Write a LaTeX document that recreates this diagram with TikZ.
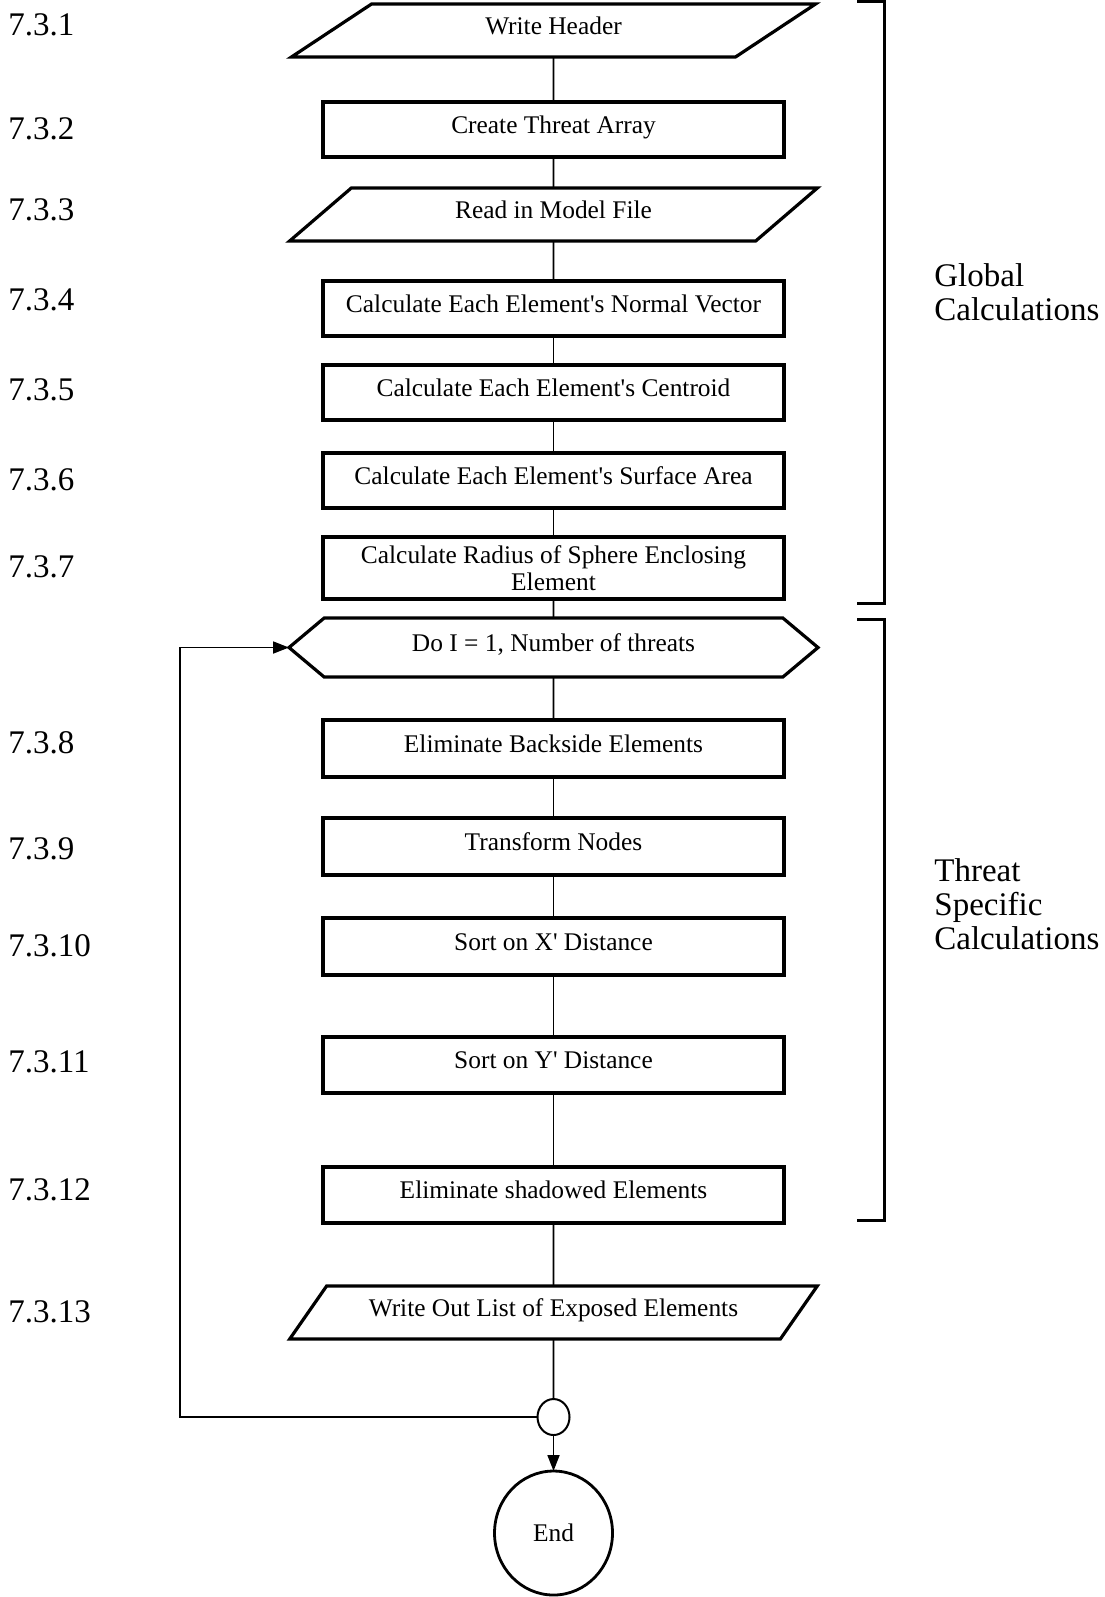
\documentclass[tikz,border=0pt]{standalone}
\usepackage{fontspec}
\setmainfont{Liberation Serif}
\usepackage{tikz}
\usetikzlibrary{shapes,arrows.meta,positioning,calc}

\begin{document}
\begin{tikzpicture}[x=0.5pt, y=-0.5pt,
    lift/.style={text height=9pt, text depth=5.5pt},
    iobox/.style={trapezium, trapezium left angle=44, trapezium right angle=136, trapezium stretches=true, draw, line width=1.6pt, minimum width=264pt, minimum height=26.5pt, inner sep=0pt, outer sep=0pt, lift, font=\fontsize{12.7}{13.8}\selectfont},
    procbox/.style={rectangle, draw, line width=1.6pt, minimum width=230.5pt, minimum height=27.5pt, inner sep=0pt, outer sep=0pt, align=center, lift, font=\fontsize{12.7}{13.8}\selectfont},
    loopbox/.style={signal, signal to=west and east, signal pointer angle=80, draw, line width=1.6pt, minimum width=264.5pt, minimum height=29.5pt, inner sep=0pt, outer sep=0pt, lift, font=\fontsize{12.7}{13.8}\selectfont},
    joint/.style={ellipse, draw, line width=1pt, minimum width=16pt, minimum height=18pt, inner sep=0pt, outer sep=0pt},
    endbox/.style={ellipse, draw, line width=1.4pt, minimum width=59pt, minimum height=62pt, inner sep=0pt, outer sep=0pt, font=\fontsize{12.7}{13.8}\selectfont},
    flow/.style={line width=0.9pt},
    num/.style={anchor=base west, inner sep=0pt, font=\fontsize{16.5}{18}\selectfont},
    side/.style={anchor=west, align=left, inner sep=0pt, font=\fontsize{16.5}{17}\selectfont},
    bracket/.style={line width=1.5pt}]

    \useasboundingbox (0,0) rectangle (1104,1597);

    % global part
    \node[iobox] (n1) at (553.5,30.5) {Write Header};
    \node[procbox, below=22.5pt of n1] (n2) {Create Threat Array};
    \node[iobox, below=15.5pt of n2] (n3) {Read in Model File};
    \node[procbox, below=20pt of n3] (n4) {Calculate Each Element\textquotesingle s Normal Vector};
    \node[procbox, below=14.5pt of n4] (n5) {Calculate Each Element\textquotesingle s Centroid};
    \node[procbox, below=16.5pt of n5] (n6) {Calculate Each Element\textquotesingle s Surface Area};
    \node[procbox, below=14.5pt of n6, minimum height=31pt, text height=, text depth=] (n7) {Calculate Radius of Sphere Enclosing\\Element};

    % threat loop
    \node[loopbox, below=9.5pt of n7] (doloop) {Do I = 1, Number of threats};
    \node[procbox, below=21.5pt of doloop, minimum height=28.5pt] (n8) {Eliminate Backside Elements};
    \node[procbox, below=20.5pt of n8, minimum height=28.5pt] (n9) {Transform Nodes};
    \node[procbox, below=21.5pt of n9, minimum height=28.5pt] (n10) {Sort on X\textquotesingle\ Distance};
    \node[procbox, below=31pt of n10, minimum height=28pt] (n11) {Sort on Y\textquotesingle\ Distance};
    \node[procbox, below=37pt of n11, minimum height=28pt] (n12) {Eliminate shadowed Elements};
    \node[iobox, below=31.5pt of n12] (n13) {Write Out List of Exposed Elements};
    \node[joint, below=30pt of n13] (jn) {};
    \node[endbox, below=18pt of jn] (end) {End};
    \coordinate (back) at (180,0);

    % section numbers
    \node[num] (s1) at (8,35) {7.3.1};
    \node[num] (s2) at (8,139) {7.3.2};
    \node[num] (s3) at (8,220) {7.3.3};
    \node[num] (s4) at (8,310) {7.3.4};
    \node[num] (s5) at (8,400) {7.3.5};
    \node[num] (s6) at (8,490) {7.3.6};
    \node[num] (s7) at (8,577) {7.3.7};
    \node[num] (s8) at (8,753) {7.3.8};
    \node[num] (s9) at (8,859) {7.3.9};
    \node[num] (s10) at (8,956) {7.3.10};
    \node[num] (s11) at (8,1072) {7.3.11};
    \node[num] (s12) at (8,1200) {7.3.12};
    \node[num] (s13) at (8,1322) {7.3.13};

    % brackets
    \draw[bracket] (857,1.5) -- (884,1.5) -- (884,603) -- (857,603);
    \draw[bracket] (857,619) -- (884,619) -- (884,1220) -- (857,1220);
    \node[side] (glob) at (934,292) {Global\\Calculations};
    \node[side] (spec) at (934,904) {Threat\\Specific\\Calculations};

    \draw[flow] (n1) -- (n2);
    \draw[flow] (n2) -- (n3);
    \draw[flow] (n3) -- (n4);
    \draw[flow] (n4) -- (n5);
    \draw[flow] (n5) -- (n6);
    \draw[flow] (n6) -- (n7);
    \draw[flow] (n7) -- (doloop);
    \draw[flow] (doloop) -- (n8);
    \draw[flow] (n8) -- (n9);
    \draw[flow] (n9) -- (n10);
    \draw[flow] (n10) -- (n11);
    \draw[flow] (n11) -- (n12);
    \draw[flow] (n12) -- (n13);
    \draw[flow] (n13) -- (jn);
    \draw[flow, -{Triangle[length=8pt, width=6pt]}] (jn) -- (end);
    \draw[flow, -{Triangle[length=8pt, width=6pt]}] (jn.west) -- (jn.west -| back) |- (doloop.west);
\end{tikzpicture}
\end{document}
